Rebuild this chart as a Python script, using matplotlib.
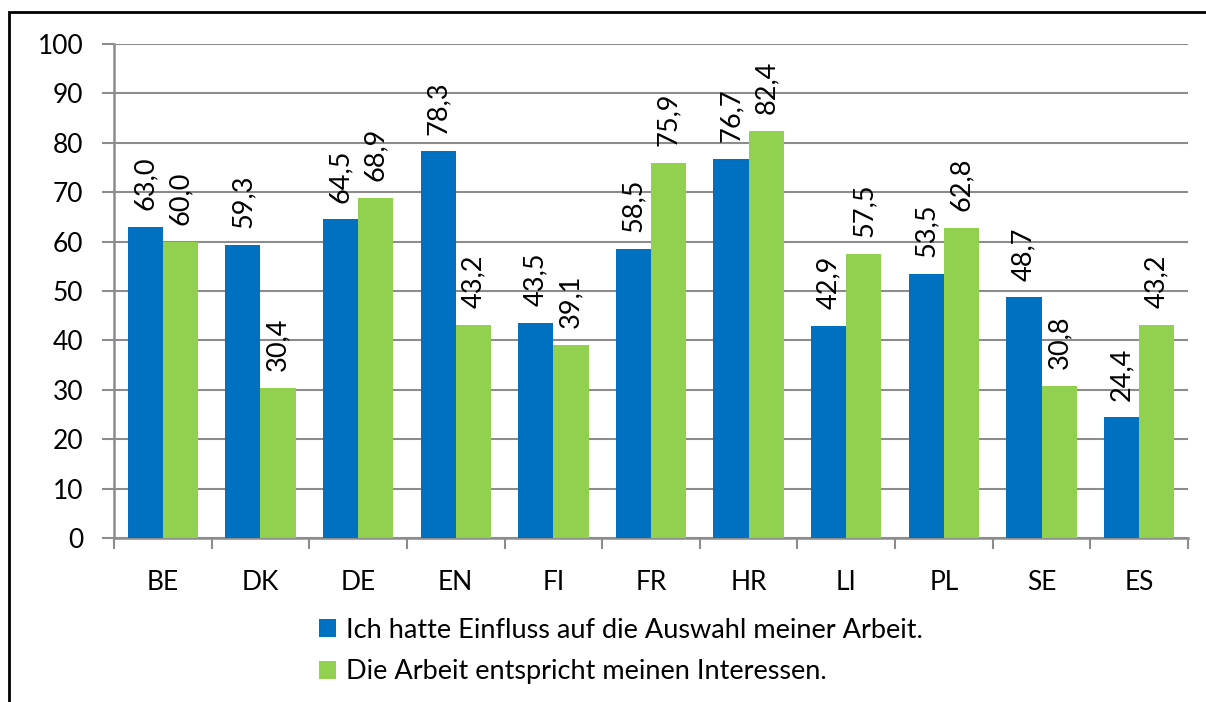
import matplotlib.pyplot as plt
import matplotlib.patches as mpatches
import numpy as np

plt.rcParams['font.family'] = ['Lato', 'DejaVu Sans']

laender = ['BE', 'DK', 'DE', 'EN', 'FI', 'FR', 'HR', 'LI', 'PL', 'SE', 'ES']
einfluss = [63.0, 59.3, 64.5, 78.3, 43.5, 58.5, 76.7, 42.9, 53.5, 48.7, 24.4]
interessen = [60.0, 30.4, 68.9, 43.2, 39.1, 75.9, 82.4, 57.5, 62.8, 30.8, 43.2]
namen = ['Ich hatte Einfluss auf die Auswahl meiner Arbeit.',
         'Die Arbeit entspricht meinen Interessen.']

blau = '#0070C0'
gruen = '#92D050'
grau = '#8C8C8C'
fs = 19

fig = plt.figure(figsize=(12.06, 7.02), dpi=100)
ax = fig.add_axes([114/1206, 1-538/702, 1074/1206, 494/702])

x = np.arange(len(laender))
w = 0.36
b1 = ax.bar(x - w/2, einfluss, w, color=blau, label=namen[0], zorder=3)
b2 = ax.bar(x + w/2, interessen, w, color=gruen, label=namen[1], zorder=3)

for bars, werte in [(b1, einfluss), (b2, interessen)]:
    for b, v in zip(bars, werte):
        ax.annotate(f'{v:.1f}'.replace('.', ','),
                    (b.get_x() + b.get_width()/2, v),
                    xytext=(0, 12), textcoords='offset points',
                    rotation=90, ha='center', va='bottom', fontsize=fs + 0.5, zorder=4)

ax.set_xlim(-0.5, len(laender) - 0.5)
ax.set_ylim(0, 100)
ax.set_yticks(range(0, 101, 10))
ax.yaxis.grid(True, color=grau, linewidth=1.5, zorder=0)
ax.set_axisbelow(True)

ax.set_xticks(x)
ax.set_xticklabels(laender)
ax.set_xticks(np.arange(-0.5, len(laender)), minor=True)
ax.tick_params(axis='x', which='major', length=0, pad=23, labelsize=fs)
ax.tick_params(axis='x', which='minor', length=8, width=1.5, color=grau)
ax.tick_params(axis='y', length=9, width=1.5, color=grau, pad=13, labelsize=fs)

for s in ['top', 'right']:
    ax.spines[s].set_visible(False)
for s in ['left', 'bottom']:
    ax.spines[s].set_color(grau)
    ax.spines[s].set_linewidth(1.8)

fig.legend(loc='upper left', bbox_to_anchor=(308/1206, 1-607/702),
           frameon=False, fontsize=fs + 0.5, handlelength=0.65, handleheight=0.65,
           handletextpad=0.35, labelspacing=0.6, borderaxespad=0)

rahmen = mpatches.Rectangle((9/1206, -0.1), 1.2, 1.1 - 12/702,
                            transform=fig.transFigure, fill=False,
                            edgecolor='black', linewidth=2, clip_on=False)
fig.patches.append(rahmen)

fig.savefig('out.png', dpi=100)
